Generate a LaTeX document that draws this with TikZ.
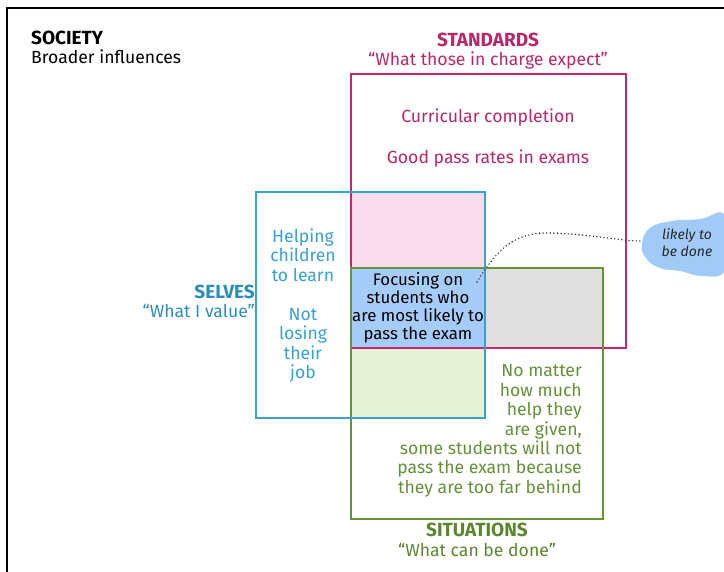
\documentclass[tikz,border=0pt]{standalone}
\usepackage{fontspec}
\setmainfont{Fira Sans}
\usetikzlibrary{positioning,backgrounds}

\newcommand{\headfont}{\fontsize{19}{19.4}\selectfont\bfseries}

\begin{document}
\begin{tikzpicture}[x=1pt,y=-1pt,
  txt/.style={inner sep=0pt, font=\fontsize{17.6}{19.4}\selectfont},
  stdbox/.style={draw={rgb, 255:red, 196; green, 38; blue, 112}, line width=1.5pt, minimum width=275pt, minimum height=274pt, inner sep=0pt, outer sep=0pt},
  sitbox/.style={draw={rgb, 255:red, 104; green, 146; blue, 56}, line width=1.5pt, minimum width=252pt, minimum height=251pt, inner sep=0pt, outer sep=0pt},
  selbox/.style={draw={rgb, 255:red, 56; green, 162; blue, 204}, line width=1.5pt, minimum width=229pt, minimum height=226pt, inner sep=0pt, outer sep=0pt},
  stdtxt/.style={txt, text={rgb, 255:red, 182; green, 40; blue, 106}, align=center},
  seltxt/.style={txt, text={rgb, 255:red, 58; green, 160; blue, 204}},
  sittxt/.style={txt, text={rgb, 255:red, 100; green, 144; blue, 58}},
  dotlink/.style={draw={rgb, 255:red, 50; green, 50; blue, 50}, line width=1.6pt, line cap=round, dash pattern=on 0pt off 3.6pt},
]

\useasboundingbox (0,0) rectangle (724,572);

% Frame
\draw [line width=2pt] (7,572) -- (7,8) -- (724,8) ;

% Boxes
\node [stdbox] (standards) at (488.5,211) {};
\node [sitbox] (situations) at (477,393.5) {};
\node [selbox] (selves) at (370.5,305) {};

% Overlaps
\begin{scope}[on background layer]
\fill [fill={rgb, 255:red, 249; green, 221; blue, 236}] (standards.west |- selves.north) rectangle (selves.east |- situations.north) ;
\fill [fill={rgb, 255:red, 166; green, 204; blue, 250}] (situations.north west) rectangle (selves.east |- standards.south) ;
\fill [fill={rgb, 255:red, 223; green, 223; blue, 223}] (selves.east |- situations.north) rectangle (situations.east |- standards.south) ;
\fill [fill={rgb, 255:red, 229; green, 240; blue, 214}] (situations.west |- standards.south) rectangle (selves.south east) ;
\fill [fill={rgb, 255:red, 162; green, 202; blue, 246}] plot [smooth cycle, tension=0.8] coordinates {(642,244) (650,228) (672,221) (700,219) (724,214) (726,244) (724,272) (702,276) (680,271) (660,268) (646,258)} ;
\end{scope}

% Text Node
\node [txt, anchor=west, align=left] (society) at (31,47.5) {{\headfont SOCIETY}\\Broader influences};
% Text Node
\node [stdtxt] (stdtitle) at (488,51) {{\headfont STANDARDS}\\“What those in charge expect”};
% Text Node
\node [stdtxt] (stdnote) at (488,138) {Curricular completion\\[21pt]Good pass rates in exams};
% Text Node
\node [seltxt, anchor=east, align=right, text={rgb, 255:red, 44; green, 142; blue, 184}] (seltitle) at (255,301.5) {{\headfont SELVES}\\“What I value”};
% Text Node
\node [seltxt, align=center] (selnote) at (303,305.5) {Helping\\children\\to learn\\[20pt]Not\\losing\\their\\job};
% Text Node
\node [txt, align=center, font=\fontsize{16.8}{18}\selectfont] (focus) at (418,308) {Focusing on\\students who\\are most likely to\\pass the exam};
% Text Node
\node [sittxt, anchor=east, align=right] (sitnote) at (582,431) {No matter\\how much\\help they\\are given,\\some students will not\\pass the exam because\\they are too far behind};
% Text Node
\node [sittxt, align=center, text={rgb, 255:red, 90; green, 134; blue, 46}] (sittitle) at (477,540) {{\headfont SITUATIONS}\\“What can be done”};
% Text Node
\node [txt, align=center, font=\fontsize{14}{17}\selectfont\itshape, text={rgb, 255:red, 40; green, 40; blue, 40}] (done) at (687,243) {likely to\\be done};

% Dotted link
\coordinate (tip) at (477,282) ;
\coordinate (blobedge) at (641,241) ;
\draw [dotlink] (tip) .. controls (498,248) and (515,232) .. (550,233) .. controls (590,234) and (620,241) .. (blobedge) ;

\end{tikzpicture}
\end{document}
